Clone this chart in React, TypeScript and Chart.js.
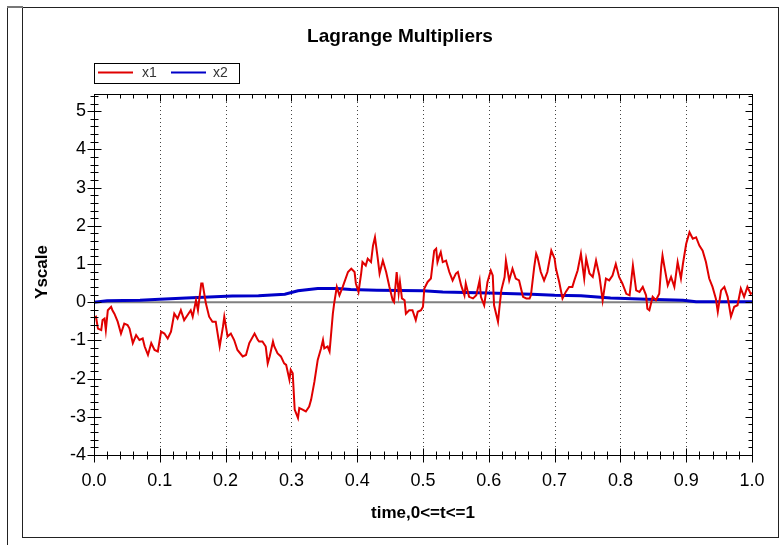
import React, { useEffect, useRef } from 'react';
import { Chart, registerables } from 'chart.js';

Chart.register(...registerables);

const CHART_TITLE = 'Lagrange Multipliers';
const X_TITLE = 'time,0<=t<=1';
const Y_TITLE = 'Yscale';
const SERIES_NAMES = ['x1', 'x2'];
const SERIES_COLORS = ['#e00000', '#0000c8'];

const X_MIN = 0;
const X_MAX = 1;
const X_STEP = 0.1;
const X_MINOR = 0.02;
const Y_MIN = -4;
const Y_MAX = 5.45;
const Y_STEP = 1;
const Y_MINOR = 0.2;
const Y_TICK_VALUES = [-4, -3, -2, -1, 0, 1, 2, 3, 4, 5];

const x1Time = [
  0, 0.003, 0.006, 0.011, 0.013, 0.016, 0.018, 0.021, 0.026, 0.028, 0.031, 0.036, 0.041, 0.046, 0.051, 0.054,
  0.059, 0.064, 0.069, 0.074, 0.077, 0.082, 0.087, 0.092, 0.097, 0.102, 0.107, 0.112, 0.117, 0.122, 0.127, 0.132,
  0.137, 0.142, 0.147, 0.15, 0.155, 0.158, 0.163, 0.165, 0.17, 0.175, 0.18, 0.185, 0.191, 0.196, 0.198, 0.203,
  0.208, 0.213, 0.218, 0.226, 0.231, 0.236, 0.244, 0.249, 0.251, 0.256, 0.261, 0.264, 0.267, 0.272, 0.274, 0.279,
  0.284, 0.289, 0.292, 0.297, 0.299, 0.302, 0.305, 0.31, 0.312, 0.317, 0.322, 0.327, 0.33, 0.335, 0.34, 0.345,
  0.348, 0.35, 0.355, 0.358, 0.36, 0.363, 0.365, 0.369, 0.373, 0.378, 0.386, 0.391, 0.396, 0.398, 0.402, 0.406,
  0.408, 0.413, 0.416, 0.421, 0.424, 0.427, 0.431, 0.434, 0.439, 0.444, 0.449, 0.454, 0.456, 0.46, 0.463, 0.465,
  0.468, 0.472, 0.474, 0.479, 0.484, 0.489, 0.492, 0.497, 0.5, 0.502, 0.507, 0.512, 0.517, 0.52, 0.522, 0.525,
  0.527, 0.53, 0.535, 0.54, 0.545, 0.55, 0.553, 0.558, 0.563, 0.565, 0.57, 0.576, 0.581, 0.586, 0.588, 0.593,
  0.598, 0.603, 0.606, 0.608, 0.614, 0.616, 0.619, 0.624, 0.626, 0.631, 0.636, 0.641, 0.646, 0.652, 0.657, 0.662,
  0.664, 0.669, 0.672, 0.674, 0.679, 0.684, 0.689, 0.695, 0.7, 0.702, 0.707, 0.712, 0.717, 0.722, 0.727, 0.73,
  0.735, 0.74, 0.745, 0.748, 0.753, 0.758, 0.763, 0.768, 0.773, 0.778, 0.783, 0.788, 0.793, 0.798, 0.803, 0.809,
  0.814, 0.819, 0.824, 0.829, 0.834, 0.839, 0.841, 0.844, 0.849, 0.854, 0.859, 0.862, 0.864, 0.867, 0.872, 0.877,
  0.882, 0.887, 0.892, 0.895, 0.9, 0.905, 0.91, 0.915, 0.92, 0.925, 0.93, 0.935, 0.94, 0.945, 0.948, 0.953,
  0.958, 0.963, 0.968, 0.973, 0.978, 0.983, 0.988, 0.993, 0.998, 1.0,
];

const x1Value = [
  -0.4, -0.38, -0.69, -0.73, -0.47, -0.43, -0.73, -0.21, -0.12, -0.21, -0.3, -0.51, -0.82, -0.56, -0.6, -0.69,
  -1.07, -0.86, -0.99, -0.95, -1.16, -1.38, -1.07, -1.25, -1.29, -0.77, -0.82, -0.95, -0.77, -0.3, -0.43, -0.21,
  -0.47, -0.34, -0.21, -0.38, 0.05, -0.21, 0.49, 0.49, -0.03, -0.38, -0.51, -0.51, -1.16, -0.64, -0.38, -0.9,
  -0.82, -0.99, -1.25, -1.42, -1.38, -1.07, -0.82, -0.99, -1.03, -1.03, -1.16, -1.6, -1.42, -1.03, -1.16, -1.34,
  -1.42, -1.6, -1.64, -2.03, -1.77, -1.86, -2.81, -3.03, -2.77, -2.81, -2.86, -2.73, -2.55, -2.08, -1.51, -1.21,
  -0.99, -1.21, -1.16, -1.29, -0.9, -0.3, -0.03, 0.4, 0.18, 0.4, 0.79, 0.88, 0.79, 0.49, 0.27, 0.75,
  1.05, 0.96, 1.14, 1.05, 1.48, 1.7, 1.18, 0.75, 1.09, 0.79, 0.4, 0.05, 0.0, 0.79, 0.23, 0.53,
  0.1, 0.05, -0.3, -0.21, -0.21, -0.47, -0.25, -0.21, -0.12, 0.36, 0.53, 0.62, 1.35, 1.4, 1.05, 1.22,
  1.31, 1.05, 1.09, 0.79, 0.57, 0.75, 0.79, 0.44, 0.18, 0.49, 0.14, 0.1, 0.18, 0.57, 0.14, -0.08,
  0.53, 0.83, 0.7, -0.08, -0.51, -0.17, 0.31, 0.66, 1.09, 0.57, 0.88, 0.62, 0.57, 0.14, 0.1, 0.1,
  0.18, 0.92, 1.27, 1.18, 0.79, 0.57, 0.79, 1.35, 1.14, 0.88, 0.53, 0.1, 0.27, 0.4, 0.4, 0.57,
  0.83, 1.27, 0.62, 1.14, 0.75, 0.66, 1.09, 0.7, 0.05, 0.62, 0.57, 0.7, 1.0, 0.66, 0.49, 0.22,
  0.18, 0.96, 0.31, 0.27, 0.4, 0.18, -0.17, -0.21, 0.14, 0.05, 0.22, 0.92, 1.22, 0.92, 0.44, 0.66,
  0.4, 1.05, 0.62, 1.0, 1.53, 1.83, 1.66, 1.7, 1.48, 1.35, 1.05, 0.62, 0.4, 0.1, -0.25, 0.31,
  0.4, 0.14, -0.38, -0.12, -0.08, 0.36, 0.14, 0.4, 0.22, 0.25,
];

const x2Time = [
  0, 0.02, 0.07, 0.1, 0.14, 0.21, 0.25, 0.29, 0.31, 0.34, 0.37, 0.39, 0.43, 0.5, 0.53, 0.6, 0.665, 0.7, 0.74,
  0.785, 0.84, 0.895, 0.915, 1.0,
];
const x2Value = [
  0.0, 0.04, 0.05, 0.08, 0.11, 0.16, 0.17, 0.21, 0.3, 0.36, 0.36, 0.33, 0.31, 0.3, 0.27, 0.24, 0.21, 0.18, 0.17,
  0.11, 0.08, 0.05, 0.01, 0.01,
];

const FONT = '"Liberation Sans", Arial, sans-serif';

const decorPlugin = {
  id: 'decor',
  beforeDatasetsDraw(chart: any) {
    const { ctx, chartArea: a, scales } = chart;
    const xs = scales.x;
    const ys = scales.y;
    ctx.save();
    ctx.strokeStyle = '#444';
    ctx.lineWidth = 1;
    ctx.setLineDash([1, 3]);
    const nMaj = Math.round((X_MAX - X_MIN) / X_STEP);
    for (let k = 1; k < nMaj; k++) {
      const px = Math.round(xs.getPixelForValue(X_MIN + k * X_STEP)) + 0.5;
      ctx.beginPath();
      ctx.moveTo(px, a.top);
      ctx.lineTo(px, a.bottom);
      ctx.stroke();
    }
    ctx.setLineDash([]);
    const py0 = ys.getPixelForValue(0);
    ctx.strokeStyle = '#808080';
    ctx.lineWidth = 2;
    ctx.beginPath();
    ctx.moveTo(a.left, py0);
    ctx.lineTo(a.right, py0);
    ctx.stroke();
    ctx.restore();
  },
  afterDraw(chart: any) {
    const { ctx, chartArea: a, scales } = chart;
    const xs = scales.x;
    const ys = scales.y;
    ctx.save();
    const seg = (x1: number, y1: number, x2: number, y2: number) => {
      ctx.beginPath();
      ctx.moveTo(x1, y1);
      ctx.lineTo(x2, y2);
      ctx.stroke();
    };
    ctx.strokeStyle = '#222';
    ctx.lineWidth = 1;
    ctx.strokeRect(22.5, 7.5, 756, 530);
    seg(7.5, 7, 7.5, 545);
    ctx.strokeStyle = '#777';
    ctx.lineWidth = 2;
    seg(7, 7, 23, 7);

    ctx.strokeStyle = '#000';
    ctx.lineWidth = 1;
    const L = Math.round(a.left) + 0.5;
    const R = Math.round(a.right) + 0.5;
    const T = Math.round(a.top) + 0.5;
    const B = Math.round(a.bottom) + 0.5;
    ctx.strokeRect(L, T, R - L, B - T);

    const nxm = Math.round((X_MAX - X_MIN) / X_MINOR);
    for (let k = 0; k <= nxm; k++) {
      const v = X_MIN + k * X_MINOR;
      const major = k % Math.round(X_STEP / X_MINOR) === 0;
      const px = Math.round(xs.getPixelForValue(v)) + 0.5;
      const len = major ? 7 : 4;
      seg(px, B - len, px, B + len);
      seg(px, T, px, T + len);
    }
    const nym = Math.floor((Y_MAX - Y_MIN) / Y_MINOR + 1e-6);
    for (let k = 0; k <= nym; k++) {
      const v = Y_MIN + k * Y_MINOR;
      const major = k % Math.round(Y_STEP / Y_MINOR) === 0;
      const py = Math.round(ys.getPixelForValue(v)) + 0.5;
      const len = major ? 7 : 4;
      seg(L - len, py, L + len, py);
      seg(R - len, py, R, py);
    }

    ctx.fillStyle = '#000';
    ctx.textAlign = 'center';
    ctx.textBaseline = 'middle';
    ctx.font = `bold 19px ${FONT}`;
    ctx.fillText(CHART_TITLE, 400, 37);

    ctx.font = `bold 17px ${FONT}`;
    ctx.fillText(X_TITLE, (a.left + a.right) / 2, 513);
    ctx.save();
    ctx.translate(42, 272);
    ctx.rotate(-Math.PI / 2);
    ctx.fillText(Y_TITLE, 0, 0);
    ctx.restore();

    ctx.strokeStyle = '#000';
    ctx.lineWidth = 1;
    ctx.strokeRect(94.5, 63.5, 145, 20);
    const items = [
      { lx: 98, tx: 142 },
      { lx: 171, tx: 213 },
    ];
    ctx.font = `14px ${FONT}`;
    ctx.textAlign = 'left';
    ctx.textBaseline = 'middle';
    items.forEach((it, i) => {
      ctx.strokeStyle = SERIES_COLORS[i];
      ctx.lineWidth = 2;
      seg(it.lx, 72.5, it.lx + 35, 72.5);
      ctx.fillStyle = '#333';
      ctx.fillText(SERIES_NAMES[i], it.tx, 73);
    });
    ctx.restore();
  },
};

export default function App() {
  const ref = useRef<HTMLCanvasElement | null>(null);
  useEffect(() => {
    if (!ref.current) return;
    const chart = new Chart(ref.current, {
      type: 'line',
      data: {
        datasets: [
          {
            label: SERIES_NAMES[0],
            data: x1Time.map((t, i) => ({ x: t, y: x1Value[i] })),
            borderColor: SERIES_COLORS[0],
            borderWidth: 2,
            pointRadius: 0,
            tension: 0,
            fill: false,
          },
          {
            label: SERIES_NAMES[1],
            data: x2Time.map((t, i) => ({ x: t, y: x2Value[i] })),
            borderColor: SERIES_COLORS[1],
            borderWidth: 3,
            pointRadius: 0,
            tension: 0,
            fill: false,
          },
        ],
      },
      plugins: [decorPlugin],
      options: {
        animation: false,
        responsive: false,
        devicePixelRatio: 1,
        events: [],
        layout: { padding: { top: 94, right: 32, left: 0, bottom: 0 } },
        plugins: {
          legend: { display: false },
          title: { display: false },
          tooltip: { enabled: false },
        },
        scales: {
          x: {
            type: 'linear',
            min: X_MIN,
            max: X_MAX,
            grid: { display: false, drawTicks: false },
            border: { display: false },
            ticks: {
              stepSize: X_STEP,
              padding: 15,
              color: '#000',
              font: { family: FONT, size: 18 },
              maxRotation: 0,
              callback: (v: any) => Number(v).toFixed(1),
            },
            afterFit: (s: any) => {
              s.height = 90;
            },
          },
          y: {
            type: 'linear',
            min: Y_MIN,
            max: Y_MAX,
            grid: { display: false, drawTicks: false },
            border: { display: false },
            afterBuildTicks: (s: any) => {
              s.ticks = Y_TICK_VALUES.map((v) => ({ value: v }));
            },
            ticks: {
              padding: 8,
              color: '#000',
              font: { family: FONT, size: 18 },
              callback: (v: any) => String(Math.round(Number(v))),
            },
            afterFit: (s: any) => {
              s.width = 94;
            },
          },
        },
      },
    });
    return () => chart.destroy();
  }, []);
  return (
    <div style={{ position: 'absolute', left: 0, top: 0, width: 784, height: 545, background: '#fff' }}>
      <canvas ref={ref} width={784} height={545} />
    </div>
  );
}
